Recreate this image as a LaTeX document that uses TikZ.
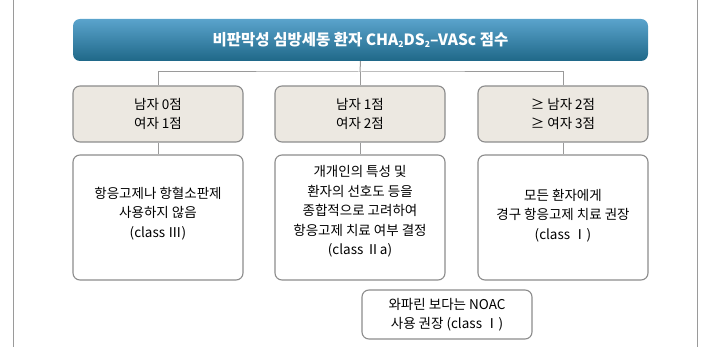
\documentclass[tikz,border=0pt]{standalone}
\usepackage{fontspec}
\setmainfont{Noto Sans CJK KR}
\usetikzlibrary{shadings}
\definecolor{titletop}{HTML}{5AA3CC}
\definecolor{titlebot}{HTML}{1F6888}
\definecolor{beige}{HTML}{ECE8E1}
\definecolor{edgegray}{HTML}{8C8C8C}
\definecolor{linegray}{HTML}{9A9A9A}
\tikzset{
  titlebox/.style={rectangle, rounded corners=7pt, top color=titletop, bottom color=titlebot,
    minimum width=575pt, minimum height=42pt, inner sep=0pt, text=white,
    font=\fontsize{15.5}{18}\selectfont\bfseries},
  levelbox/.style={rectangle, rounded corners=7pt, draw=edgegray, line width=1.1pt, fill=beige,
    minimum width=170pt, minimum height=56pt, inner sep=0pt, align=center,
    font=\fontsize{13.5}{19}\selectfont},
  recbox/.style={rectangle, rounded corners=7pt, draw=edgegray, line width=1.1pt, fill=white,
    minimum width=170pt, minimum height=125pt, inner sep=0pt},
  rectext/.style={inner sep=0pt, align=center, yshift=4pt,
    font=\fontsize{13.5}{19.6}\selectfont},
  notebox/.style={rectangle, rounded corners=7pt, draw=edgegray, line width=1.1pt, fill=white,
    minimum width=170pt, minimum height=49pt, inner sep=0pt, align=center,
    font=\fontsize{13.5}{19}\selectfont},
  conn/.style={draw=linegray, line width=1pt},
  frame/.style={draw=linegray, line width=1pt}
}
\newcommand{\subtwo}{\raisebox{-0.25ex}{\fontsize{8.5}{8.5}\selectfont 2}}
\begin{document}
\begin{tikzpicture}[x=1pt,y=-1pt]
\useasboundingbox (0,0) rectangle (705,347);
\draw[frame] (13,0) -- (13,347);
\draw[frame] (697,0) -- (697,347);

\node[titlebox] (title) at (360.5,40) {비판막성 심방세동 환자 CHA\subtwo DS\subtwo–VASc 점수};

\node[levelbox] (l1) at (158,114) {남자 0점\\여자 1점};
\node[levelbox] (l2) at (360,114) {남자 1점\\여자 2점};
\node[levelbox] (l3) at (563,114) {≥ 남자 2점\\≥ 여자 3점};

\node[recbox] (r1) at (158,217.5) {};
\node[recbox] (r2) at (360,217.5) {};
\node[recbox] (r3) at (563,217.5) {};
\node[rectext] (t1) at (r1.center) {항응고제나 항혈소판제\\사용하지 않음\\(class Ⅲ)};
\node[rectext, yshift=2pt] (t2) at (r2.center) {개개인의 특성 및\\환자의 선호도 등을\\종합적으로 고려하여\\항응고제 치료 여부 결정\\(class Ⅱa)};
\node[rectext, yshift=-2pt] (t3) at (r3.center) {모든 환자에게\\경구 항응고제 치료 권장\\(class Ⅰ)};

\node[notebox] (note) at (447,314.5) {와파린 보다는 NOAC\\사용 권장 (class Ⅰ)};

\coordinate (hub) at (360,72);
\draw[conn] (title.south) -- (hub);
\draw[conn] (l1.north) |- (hub) -| (l3.north);
\draw[conn] (hub) -- (l2.north);
\draw[conn] (l1.south) -- (r1.north);
\draw[conn] (l2.south) -- (r2.north);
\draw[conn] (l3.south) -- (r3.north);
\end{tikzpicture}
\end{document}
